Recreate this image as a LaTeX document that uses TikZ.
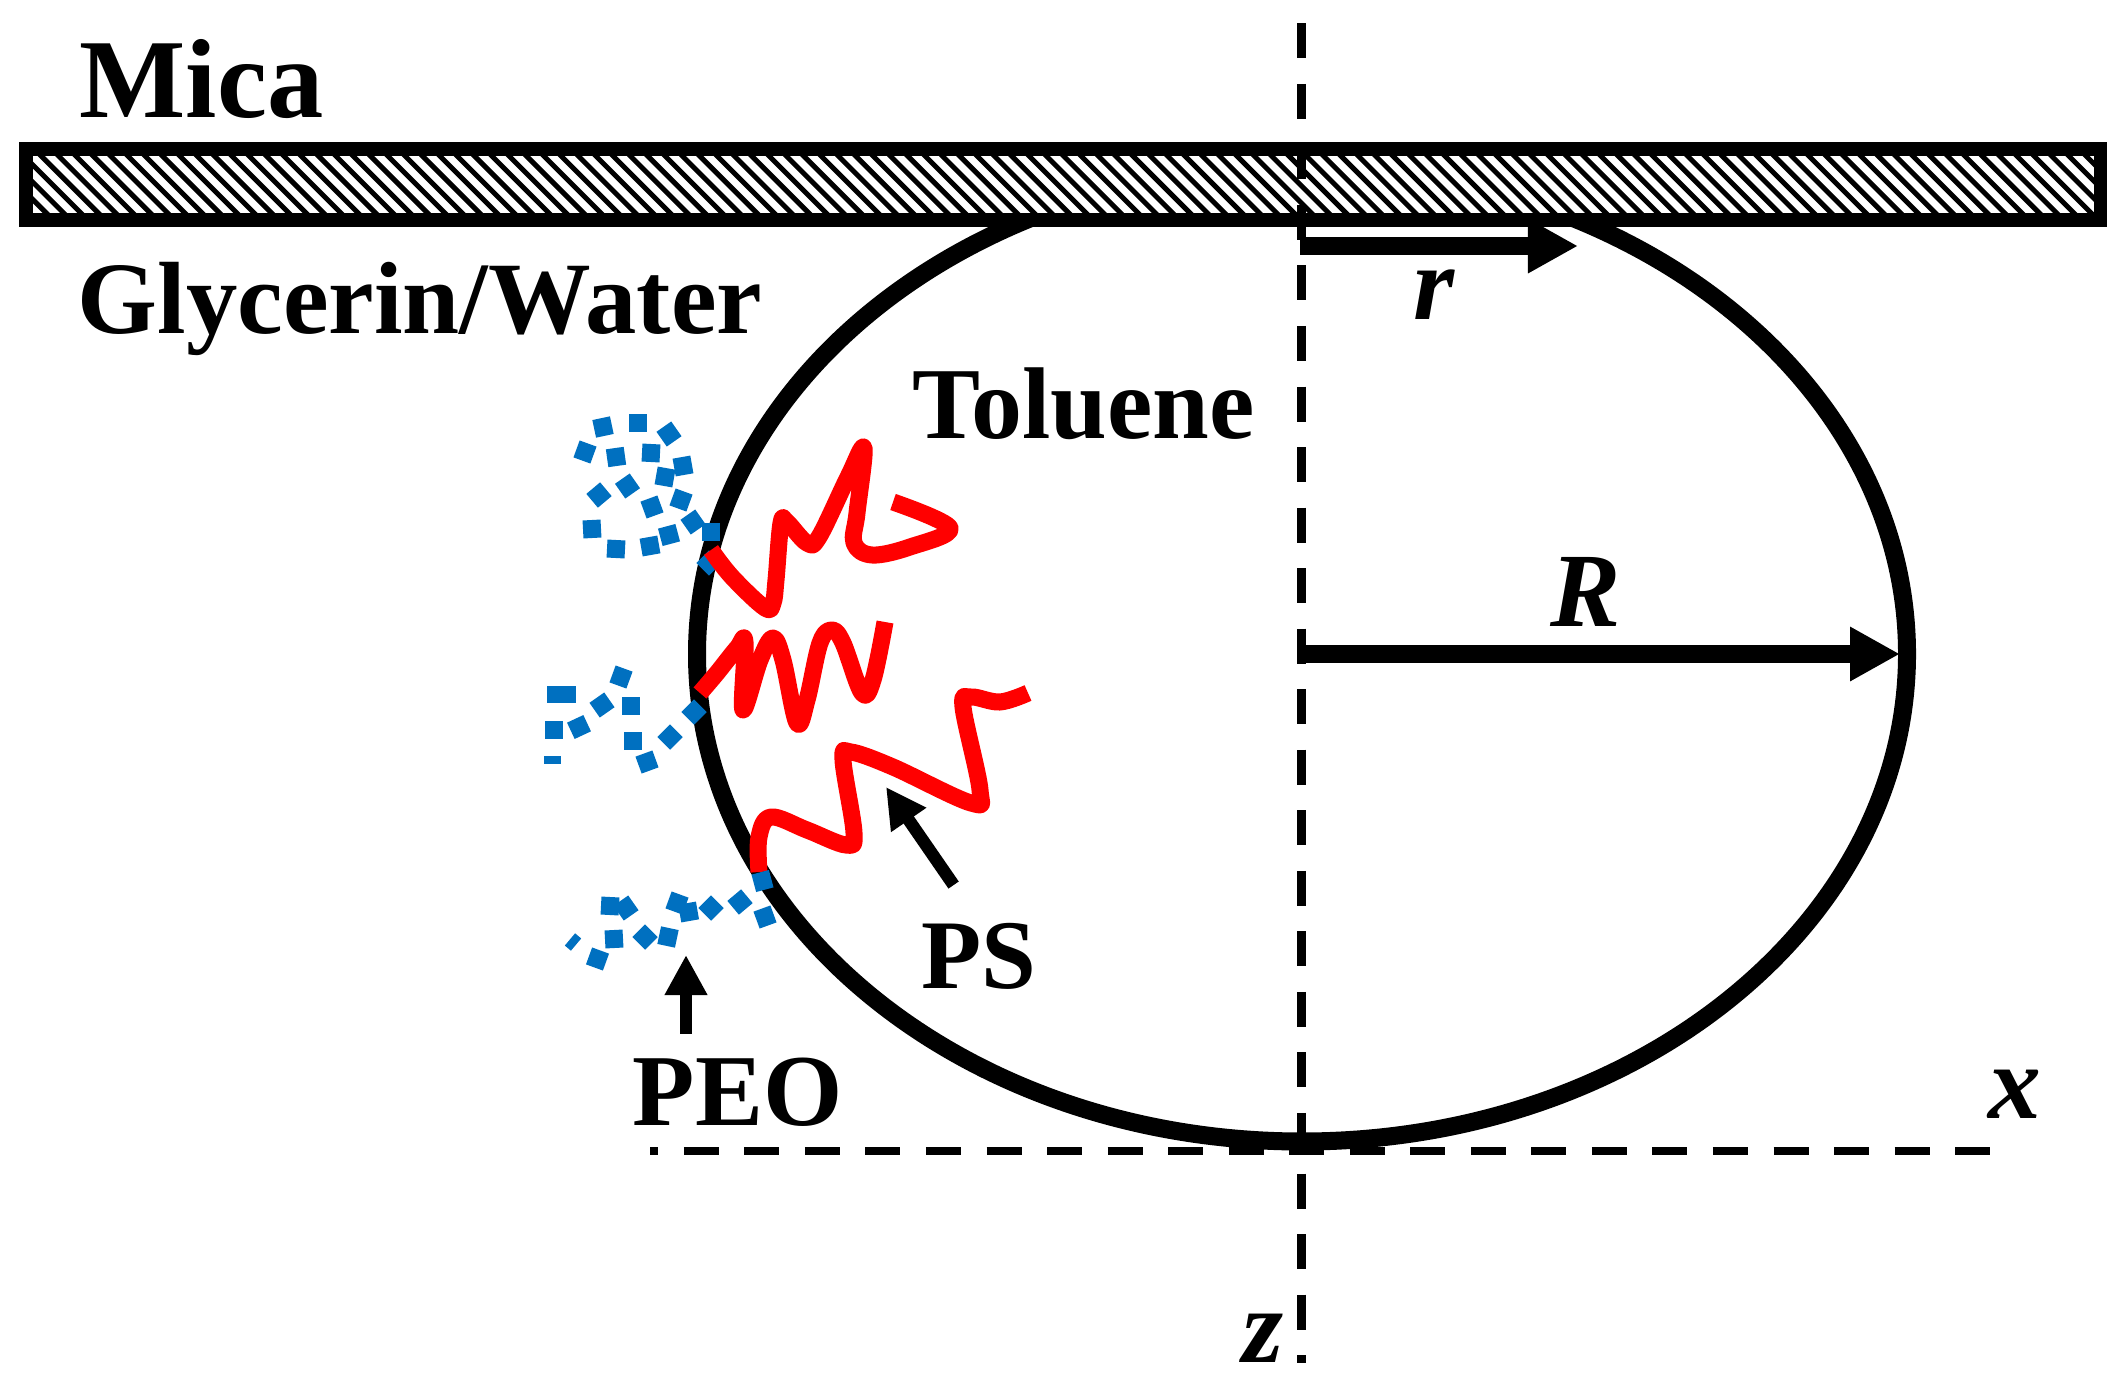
\documentclass[tikz,border=0pt]{standalone}
\usepackage{fontspec}
\setmainfont{Liberation Serif}
\usetikzlibrary{arrows.meta}

\tikzset{
	droplet/.style = { line width = 0.18cm },
	bar/.style = { line width = 0.13cm, fill = white },
	hatch/.style = { line width = 0.05cm },
	axis/.style = { line width = 0.087cm, dash pattern = on 0.35cm off 0.255cm },
	chain ps/.style = { line width = 0.17cm, red, line join = round },
	dot peo/.style = { fill = peoblue },
	bigarrow/.style = { line width = 0.175cm, -{Triangle[length = 0.5cm, width = 0.51cm]} },
	smallarrow/.style = { line width = 0.125cm, -{Triangle[length = 0.4cm, width = 0.4cm]} },
	caption/.style = { font = \bfseries\fontsize{29pt}{30pt}\selectfont, inner sep = 0pt, anchor = base west },
	symbol/.style = { font = \bfseries\itshape\fontsize{30pt}{32pt}\selectfont, inner sep = 0pt, anchor = base west }
}
\definecolor{peoblue}{HTML}{0070C0}

\begin{document}
\begin{tikzpicture}[x=0.01cm, y=-0.01cm]
	\useasboundingbox ( 0, 0 ) rectangle ( 2125, 1391 );

	% droplet
	\draw [droplet] ( 1302, 654 ) ellipse [ x radius = 605, y radius = 487.5 ];

	% mica
	\draw [bar] ( 26, 149 ) rectangle ( 2100, 220 );
	\begin{scope}
		\clip ( 26, 149 ) rectangle ( 2100, 220 );
		\foreach \i in { -72, ..., 56 }
			\draw [hatch] ( 1178 + 17.33 * \i, 149 ) -- ( 1178 + 17.33 * \i + 71, 220 );
	\end{scope}
	\draw [bar, fill = none] ( 26, 149 ) rectangle ( 2100, 220 );

	% axes
	\draw [axis] ( 1301.7, 23.3 ) -- ( 1301.7, 1363 );
	\draw [axis, dash phase = 0.267cm] ( 650, 1151 ) -- ( 1992, 1151 );

	% labels
	\node [caption, font = \bfseries\fontsize{32pt}{34pt}\selectfont] (mica) at ( 79, 118 ) {Mica};
	\node [caption, font = \bfseries\fontsize{29.2pt}{30pt}\selectfont] (glycerin) at ( 77, 333 ) {Glycerin/Water};
	\node [caption] (toluene) at ( 912, 438 ) {Toluene};
	\node [caption, font = \bfseries\fontsize{28pt}{30pt}\selectfont] (PS) at ( 921, 988 ) {PS};
	\node [caption] (PEO) at ( 632, 1125 ) {PEO};
	\node [symbol] (r) at ( 1413, 319 ) {r};
	\node [symbol] (R) at ( 1550, 626 ) {R};
	\node [symbol] (x) at ( 1988, 1118 ) {x};
	\node [symbol] (z) at ( 1242, 1362 ) {z};

	% radii
	\coordinate (rstart) at ( 1300, 246 );
	\coordinate (rtip) at ( 1578, 246 );
	\coordinate (Rstart) at ( 1300, 654 );
	\coordinate (Rtip) at ( 1900, 654 );
	\draw [bigarrow] (rstart) -- (rtip);
	\draw [bigarrow] (Rstart) -- (Rtip);

	% pointers
	\coordinate (PStip) at ( 886, 787 );
	\coordinate (PEOtip) at ( 686, 955 );
	\draw [smallarrow, shorten < = 0.45cm] (PS.north) -- (PStip);
	\draw [smallarrow, shorten < = 0.23cm] (PEO.north -| PEOtip) -- (PEOtip);

	% blue piece under the first red chain
	\fill [dot peo, rotate around = {45:( 709, 563 )}] ( 709 - 9, 563 - 9 ) rectangle ( 709 + 9, 563 + 9 );

	% PS chains
	\draw [chain ps] plot [smooth, tension = 0.6] coordinates { ( 711, 550 ) ( 732, 577 ) ( 765, 608 ) ( 773, 603 ) ( 776, 580 ) ( 781, 523 ) ( 787, 522 ) ( 807, 543 ) ( 819, 537 ) ( 848, 477 ) ( 864, 448 ) ( 857, 513 ) ( 854, 543 ) ( 872, 555 ) ( 910, 547 ) ( 950, 528 ) ( 893, 502 ) };
	\draw [chain ps] plot [smooth, tension = 0.6] coordinates { ( 700, 693 ) ( 717, 673 ) ( 737, 648 ) ( 745, 642 ) ( 743, 710 ) ( 760, 660 ) ( 773, 638 ) ( 783, 660 ) ( 797, 723 ) ( 807, 700 ) ( 820, 643 ) ( 832, 630 ) ( 843, 643 ) ( 862, 693 ) ( 873, 680 ) ( 885, 622 ) };
	\draw [chain ps] plot [smooth, tension = 0.6] coordinates { ( 759, 872 ) ( 759, 837 ) ( 771, 817 ) ( 807, 830 ) ( 846, 845 ) ( 854, 833 ) ( 843, 760 ) ( 851, 752 ) ( 893, 767 ) ( 971, 803 ) ( 980, 790 ) ( 963, 707 ) ( 971, 697 ) ( 1000, 702 ) ( 1028, 693 ) };

	% PEO chains
	\foreach \x/\y/\a in { 711/532/0, 693/522/35, 669/535/15, 650/546/10, 616/549/-3, 592/529/3, 599/495/40, 627.5/486/35, 652/507/20, 681/500/-20, 665/477/-10, 683/466/10, 651/453/-3, 616/457/8, 585/452/-20, 603/427/12, 638/423/0, 669/434/35,
		694/712/45, 670/737/45, 647/762/20, 633/741/0, 631/706/0, 602/705/35, 579/727/25, 554/730/0, 621/677/-20,
		762.5/881/15, 740/902/40, 711/908/45, 688.6/912/10, 677/903/-20, 765/917/20, 668/937/-12, 645/937/45, 614/939/3, 597.5/959/-20, 610/906/-3, 626/908/35 }
		\fill [dot peo, rotate around = {\a:( \x, \y )}] ( \x - 9, \y - 9 ) rectangle ( \x + 9, \y + 9 );
	\fill [dot peo] ( 547, 686 ) rectangle ( 576, 703 );
	\fill [dot peo] ( 544, 756 ) rectangle ( 561, 764 );
	\fill [dot peo, rotate around = {50:( 573, 942 )}] ( 573 - 8, 942 - 4 ) rectangle ( 573 + 8, 942 + 4 );
\end{tikzpicture}
\end{document}
